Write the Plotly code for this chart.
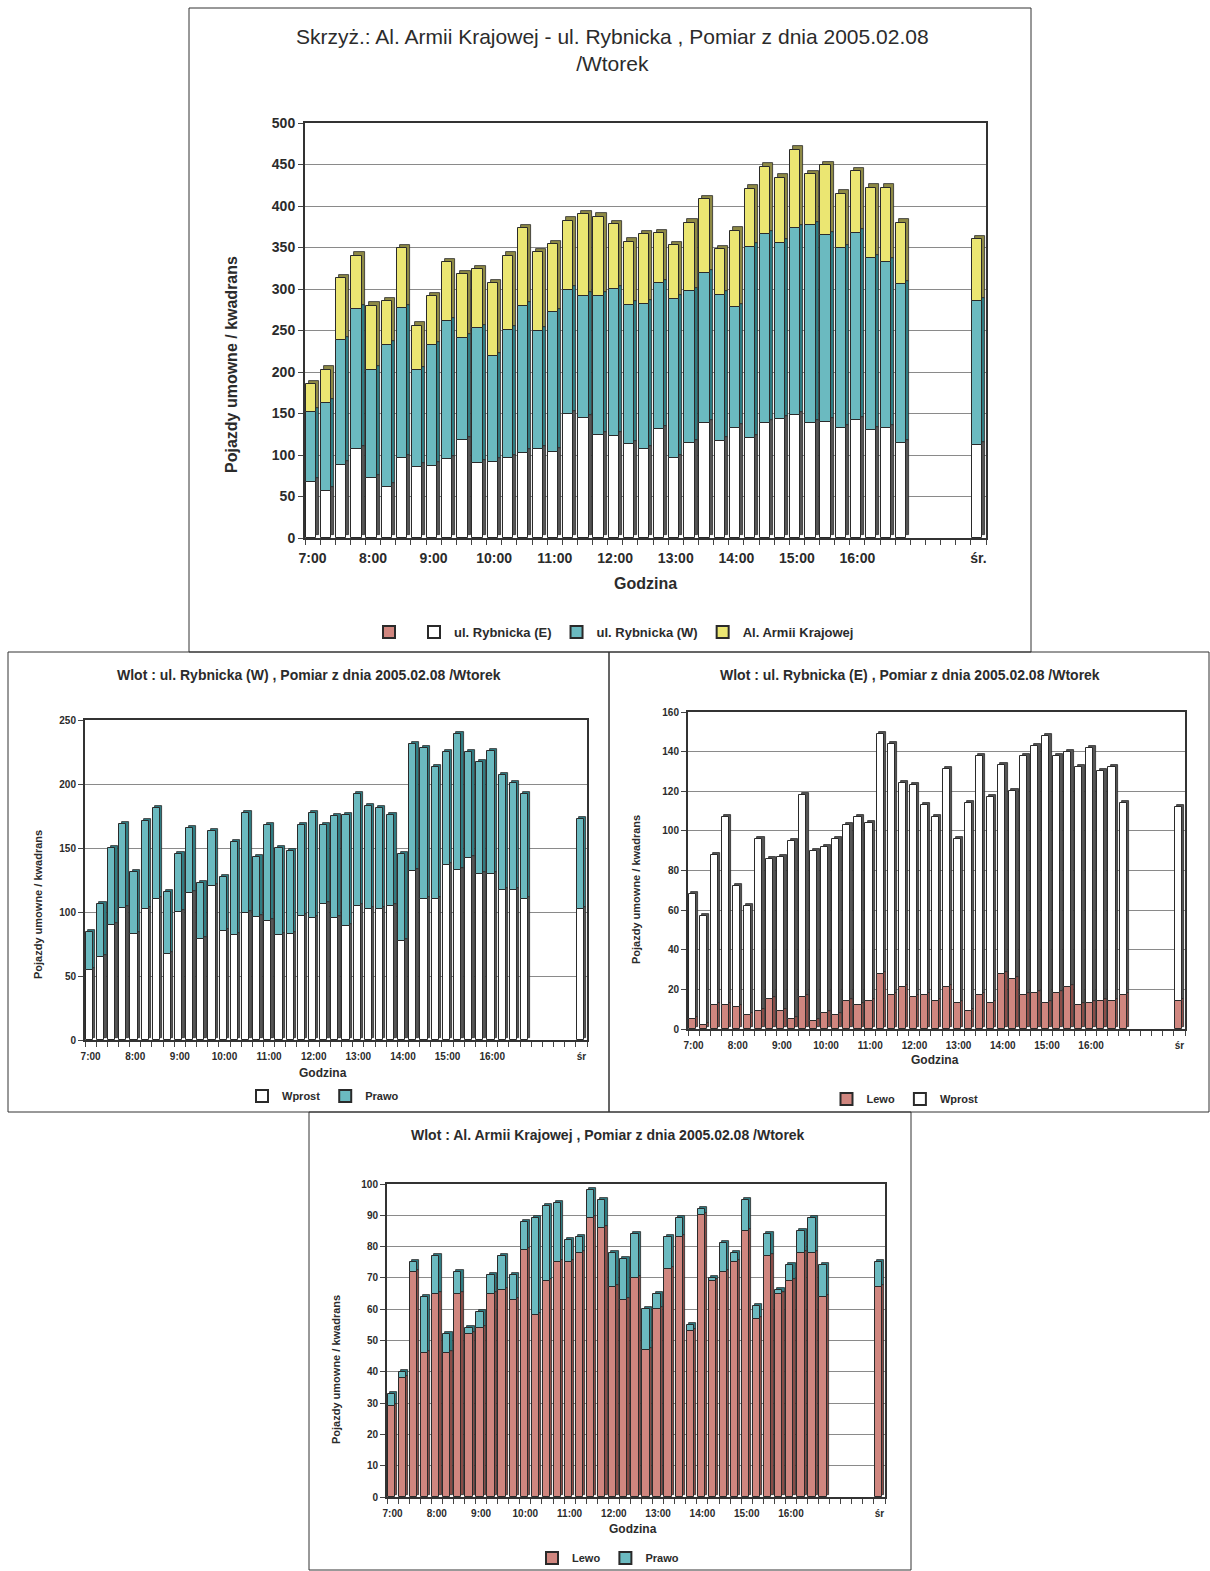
import plotly.graph_objects as go

# ---------------------------------------------------------------------------
# Quarter-hour counts, 7:00 - 16:45 (40 intervals) and the average ("śr.")
# ---------------------------------------------------------------------------
TIMES = [f"{h}:{m:02d}" for h in range(7, 17) for m in (0, 15, 30, 45)]
HOUR_LABELS = [f"{h}:00" for h in range(7, 17)]
AVG_LABEL = "śr."
GAP = 4  # empty slots between 16:45 and the average bar

# Wlot: ul. Rybnicka (E)
E_LEWO = [5, 2, 12, 12, 11, 7, 9, 15, 9, 5, 16, 4, 8, 7, 14, 12, 14, 28, 17, 21,
          16, 17, 14, 21, 13, 9, 17, 13, 28, 25, 17, 18, 13, 18, 21, 12, 13, 14, 14, 17]
E_WPROST = [63, 55, 76, 95, 61, 55, 87, 71, 78, 90, 102, 86, 84, 89, 89, 95, 90, 121, 127, 103,
            107, 96, 93, 110, 83, 105, 121, 104, 105, 95, 121, 125, 135, 120, 119, 120, 129, 116, 118, 97]
E_LEWO_AVG, E_WPROST_AVG = 14, 98

# Wlot: ul. Rybnicka (W)
W_WPROST = [55, 65, 90, 103, 83, 102, 110, 67, 100, 115, 79, 120, 85, 82, 99, 96, 93, 82, 83, 97,
            95, 106, 95, 89, 105, 102, 102, 105, 77, 132, 110, 110, 137, 133, 142, 130, 130, 117, 117, 110]
W_PRAWO = [29, 41, 60, 66, 48, 69, 71, 49, 45, 51, 44, 43, 42, 73, 78, 47, 75, 68, 65, 71,
           82, 62, 80, 87, 87, 81, 79, 71, 68, 99, 118, 103, 88, 106, 83, 87, 96, 90, 84, 82]
W_WPROST_AVG, W_PRAWO_AVG = 102, 71

# Wlot: Al. Armii Krajowej
A_LEWO = [29, 38, 72, 46, 65, 46, 65, 52, 54, 65, 66, 63, 79, 58, 69, 75, 75, 78, 89, 86,
          67, 63, 70, 47, 60, 73, 83, 53, 90, 69, 72, 75, 85, 57, 77, 65, 69, 78, 78, 64]
A_PRAWO = [4, 2, 3, 18, 12, 6, 7, 2, 5, 6, 11, 8, 9, 31, 24, 19, 7, 5, 9, 9,
           11, 13, 14, 13, 5, 10, 6, 2, 2, 1, 9, 3, 10, 4, 7, 1, 5, 7, 11, 10]
A_LEWO_AVG, A_PRAWO_AVG = 67, 8

# Per-approach totals stacked in the intersection chart
E_TOTAL = [a + b for a, b in zip(E_LEWO + [E_LEWO_AVG], E_WPROST + [E_WPROST_AVG])]
W_TOTAL = [a + b for a, b in zip(W_WPROST + [W_WPROST_AVG], W_PRAWO + [W_PRAWO_AVG])]
A_TOTAL = [a + b for a, b in zip(A_LEWO + [A_LEWO_AVG], A_PRAWO + [A_PRAWO_AVG])]

# ---------------------------------------------------------------------------
W_PX, H_PX = 1210, 1571
FONT = "Liberation Sans Narrow, Liberation Sans, Arial, sans-serif"
TXT = "#2b2b2b"

C_WHITE, S_WHITE = "#ffffff", "#555555"
C_TEAL, S_TEAL = "#6bbac0", "#2f7c82"
C_YELLOW, S_YELLOW = "#ebe672", "#8e8a45"
C_SALMON, S_SALMON = "#d0867f", "#8a4c47"
EDGE = "#2a2a2a"


def px(x):
    return x / W_PX


def py(y):
    return 1 - y / H_PX


slots = list(range(len(TIMES))) + [len(TIMES) + GAP]
tickvals = [i * 4 for i in range(len(HOUR_LABELS))] + [len(TIMES) + GAP]

fig = go.Figure()


def add_stack(axis, segments, ymax, plot_h_px, depth_px, bar_w=0.66, side=0.17):
    """3-D looking stacked columns: a darker copy behind each segment gives
    the right-hand side and the top face."""
    xa, ya = ("x", "y") if axis == 1 else (f"x{axis}", f"y{axis}")
    depth = depth_px * ymax / plot_h_px
    bases = [0] * len(slots)
    fronts = []
    for vals, col, scol, name, leg, show in segments:
        fronts.append((vals, list(bases), col, name, leg, show))
        fig.add_bar(x=slots, y=vals, base=[b + depth for b in bases], width=bar_w,
                    offset=-bar_w / 2 + side / 2, marker=dict(color=scol, line=dict(color=EDGE, width=0.8)),
                    xaxis=xa, yaxis=ya, showlegend=False, hoverinfo="skip")
        bases = [b + v for b, v in zip(bases, vals)]
    for vals, base, col, name, leg, show in fronts:
        fig.add_bar(x=slots, y=vals, base=base, width=bar_w, offset=-bar_w / 2 - side / 2,
                    marker=dict(color=col, line=dict(color=EDGE, width=1)),
                    xaxis=xa, yaxis=ya, name=name, legend=leg, showlegend=show)


# Legend-only entry of the intersection chart (empty label)
fig.add_bar(x=[None], y=[None], name="", marker=dict(color=C_SALMON, line=dict(color=EDGE, width=1)),
            legend="legend", xaxis="x", yaxis="y")

add_stack(1, [
    (E_TOTAL, C_WHITE, S_WHITE, "ul. Rybnicka (E)", "legend", True),
    (W_TOTAL, C_TEAL, S_TEAL, "ul. Rybnicka (W)", "legend", True),
    (A_TOTAL, C_YELLOW, S_YELLOW, "Al. Armii Krajowej", "legend", True),
], 500, 415, 3.5, bar_w=0.68, side=0.2)

add_stack(2, [
    (W_WPROST + [W_WPROST_AVG], C_WHITE, S_WHITE, "Wprost", "legend2", True),
    (W_PRAWO + [W_PRAWO_AVG], C_TEAL, S_TEAL, "Prawo", "legend2", True),
], 250, 320, 2.0, bar_w=0.64, side=0.22)

add_stack(3, [
    (E_LEWO + [E_LEWO_AVG], C_SALMON, S_SALMON, "Lewo", "legend3", True),
    (E_WPROST + [E_WPROST_AVG], C_WHITE, S_WHITE, "Wprost", "legend3", True),
], 160, 317, 2.0, bar_w=0.64, side=0.22)

add_stack(4, [
    (A_LEWO + [A_LEWO_AVG], C_SALMON, S_SALMON, "Lewo", "legend4", True),
    (A_PRAWO + [A_PRAWO_AVG], C_TEAL, S_TEAL, "Prawo", "legend4", True),
], 100, 313, 2.0, bar_w=0.66, side=0.2)

# ---------------------------------------------------------------------------
# Axes
# ---------------------------------------------------------------------------


def xaxis(n, dom, labels, size, standoff):
    return dict(domain=[px(dom[0]), px(dom[1])], range=[-0.5, len(TIMES) + GAP + 0.5],
                anchor="y" if n == 1 else f"y{n}",
                tickvals=tickvals, ticktext=labels, ticks="", showgrid=False, zeroline=False,
                showline=True, linecolor="#333", linewidth=2, mirror=True,
                ticklabelstandoff=standoff,
                tickfont=dict(family=FONT, size=size, color=TXT, weight="bold"),
                minor=dict(tick0=0.5, dtick=1, ticks="outside", ticklen=5, tickcolor="#444",
                           tickwidth=1, showgrid=False),
                fixedrange=True)


def yaxis(n, dom, ymax, step, size):
    return dict(domain=[py(dom[1]), py(dom[0])], range=[0, ymax], dtick=step, tick0=0,
                anchor="x" if n == 1 else f"x{n}",
                showgrid=True, gridcolor="#8a8a8a", gridwidth=1, zeroline=False,
                showline=True, linecolor="#333", linewidth=2, mirror=True,
                ticks="outside", ticklen=5, tickcolor="#444",
                tickfont=dict(family=FONT, size=size, color=TXT, weight="bold"),
                fixedrange=True)


main_labels = HOUR_LABELS + [AVG_LABEL]
sub_labels = HOUR_LABELS + ["śr"]

layout = dict(
    width=W_PX, height=H_PX, margin=dict(l=0, r=0, t=0, b=0, autoexpand=False),
    paper_bgcolor="white", plot_bgcolor="white", barmode="overlay", bargap=0,
    font=dict(family=FONT, color=TXT),
    xaxis=xaxis(1, (305, 986), main_labels, 14, 6), yaxis=yaxis(1, (123, 538), 500, 50, 14),
    xaxis2=xaxis(2, (85, 587), sub_labels, 10, 6), yaxis2=yaxis(2, (720, 1040), 250, 50, 10),
    xaxis3=xaxis(3, (688, 1185), sub_labels, 10, 6), yaxis3=yaxis(3, (712, 1029), 160, 20, 10),
    xaxis4=xaxis(4, (387, 885), sub_labels, 10, 6), yaxis4=yaxis(4, (1184, 1497), 100, 10, 10),
)


def legend(x, y, size, gap=10):
    return dict(orientation="h", x=px(x), y=py(y), xanchor="center", yanchor="middle",
                bgcolor="rgba(0,0,0,0)", font=dict(family=FONT, size=size, color=TXT, weight="bold"),
                itemsizing="constant", itemwidth=30, tracegroupgap=gap, traceorder="normal")


layout["legend"] = legend(614, 632, 13)
layout["legend2"] = legend(323, 1096, 11)
layout["legend3"] = legend(905, 1099, 11)
layout["legend4"] = legend(608, 1558, 11)

fig.update_layout(**layout)

# ---------------------------------------------------------------------------
# Titles and axis titles
# ---------------------------------------------------------------------------


def note(text, x, y, size, bold=False, angle=0):
    fig.add_annotation(text=text, x=px(x), y=py(y), xref="paper", yref="paper",
                       showarrow=False, textangle=angle, xanchor="center", yanchor="middle",
                       font=dict(family=FONT, size=size, color=TXT, weight="bold" if bold else "normal"))


note("Skrzyż.: Al. Armii Krajowej - ul. Rybnicka , Pomiar z dnia 2005.02.08<br>/Wtorek",
     612, 50, 21)
note("Pojazdy umowne / kwadrans", 232, 365, 16, True, -90)
note("Godzina", 645, 583, 16, True)

note("Wlot : ul. Rybnicka (W) , Pomiar z dnia 2005.02.08 /Wtorek", 309, 675, 14, True)
note("Pojazdy umowne / kwadrans", 38, 905, 11, True, -90)
note("Godzina", 323, 1073, 12, True)

note("Wlot : ul. Rybnicka (E) , Pomiar z dnia 2005.02.08 /Wtorek", 910, 675, 14, True)
note("Pojazdy umowne / kwadrans", 636, 890, 11, True, -90)
note("Godzina", 935, 1060, 12, True)

note("Wlot : Al. Armii Krajowej , Pomiar z dnia 2005.02.08 /Wtorek", 608, 1135, 14, True)
note("Pojazdy umowne / kwadrans", 336, 1370, 11, True, -90)
note("Godzina", 633, 1529, 12, True)

# Frames around the four charts
for x0, y0, x1, y1 in [(189, 8, 1031, 652), (8, 652, 609, 1112),
                       (609, 652, 1209, 1112), (309, 1112, 911, 1570)]:
    fig.add_shape(type="rect", xref="paper", yref="paper", x0=px(x0), x1=px(x1),
                  y0=py(y1), y1=py(y0), line=dict(color="#333", width=1), layer="below")

fig.write_html("out.html")
